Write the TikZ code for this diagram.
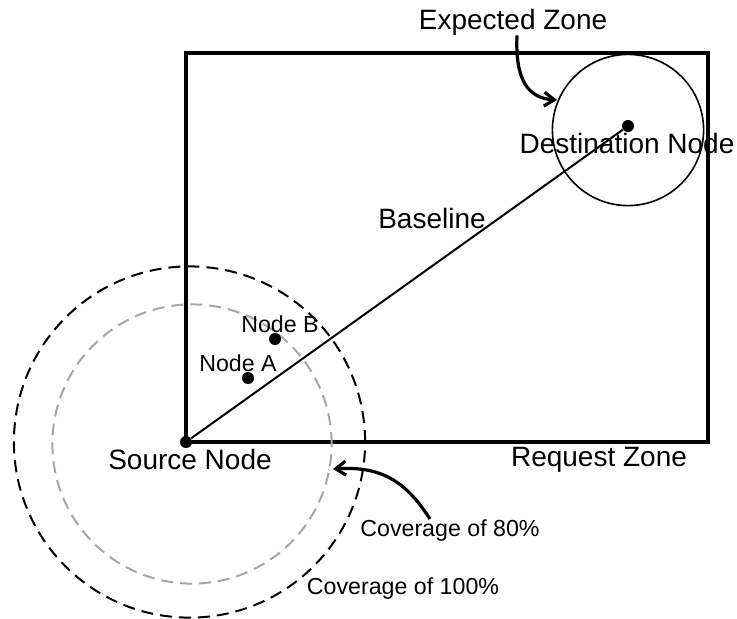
\documentclass[tikz,border=0pt]{standalone}
\usepackage{fontspec}
\setmainfont{Liberation Sans}
\usetikzlibrary{arrows.meta}
\begin{document}
\begin{tikzpicture}[x=0.5pt,y=-0.5pt,
  dot/.style={circle,fill=black,inner sep=0pt,minimum size=6pt},
  biglabel/.style={font=\fontsize{14}{16}\selectfont,inner sep=0pt},
  smalllabel/.style={font=\fontsize{11.6}{13}\selectfont,inner sep=0pt},
  pointer/.style={line width=1.6pt,-{Straight Barb[length=5pt,width=7pt]}},
  covdash/.style={dash pattern=on 6pt off 3.5pt}]
\useasboundingbox (0,0) rectangle (737,618);
% request zone
\draw[line width=2pt] (186,53) rectangle (708,442);
% coverage circles
\draw[line width=1pt,covdash] (189.5,442) circle[radius=87.8pt];
\draw[line width=1pt,covdash,color=black!35] (192,444) circle[radius=69.8pt];
% expected zone
\draw[line width=0.8pt] (628,130) circle[radius=37.8pt];
% nodes
\node[dot] (src) at (186,442) {};
\node[dot] (dst) at (628,126) {};
\node[dot] (na) at (248,378) {};
\node[dot] (nb) at (275,339) {};
\draw[line width=1pt] (src) -- (dst);
% labels
\node[biglabel] (srcl) at (190,459) {Source Node};
\node[biglabel] (dstl) at (627,143) {Destination Node};
\node[biglabel] (base) at (432,218) {Baseline};
\node[biglabel] (req) at (599,460) {Request Zone};
\node[biglabel] (exp) at (513,22) {Expected Zone};
\node[smalllabel] (nal) at (238,363) {Node A};
\node[smalllabel] (nbl) at (280,324) {Node B};
\node[smalllabel] (c80) at (450,530) {Coverage of 80\%};
\node[smalllabel] (c100) at (403,588) {Coverage of 100\%};
% pointers
\coordinate (ezpt) at (557,100);
\coordinate (c80pt) at (333,469);
\draw[pointer] (exp.south -| 517,0) .. controls (515,80) and (528,98) .. (ezpt);
\draw[pointer] (430,519) .. controls (405,480) and (380,466) .. (c80pt);
\end{tikzpicture}
\end{document}
